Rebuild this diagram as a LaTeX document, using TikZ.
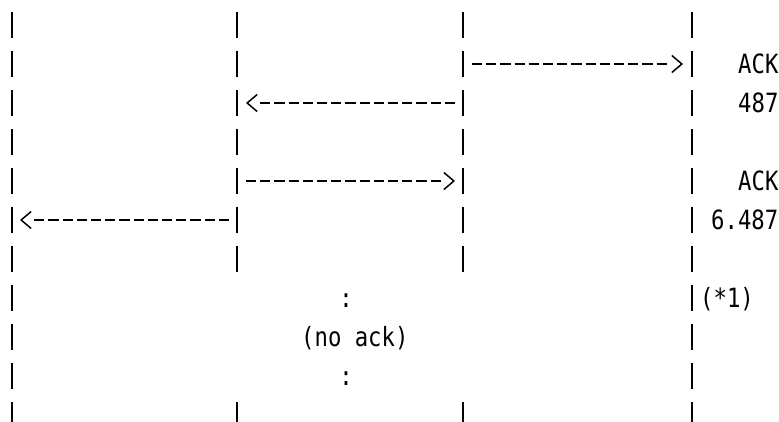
\documentclass[tikz,border=0pt]{standalone}
\usepackage{fontspec}
\usepackage{tikz}
\usetikzlibrary{arrows.meta}
\newfontfamily\asciifont{DejaVu Sans Mono}[FakeStretch=0.84]
\tikzset{
    segline/.style={line width=1.6pt, dash pattern=on 10.2pt off 4pt},
    segtip/.style={white, line width=0.1pt, -{Straight Barb[color=black,length=10pt,width=17pt,line width=1.5pt]}},
    lifeline/.style={line width=2.4pt, dash pattern=on 26pt off 13pt},
    asciitext/.style={font=\asciifont\fontsize{26.5}{30}\selectfont, inner sep=0pt, anchor=base west}
}

\begin{document}
\begin{tikzpicture}[x=1pt,y=-1pt]
    \useasboundingbox (0,0) rectangle (779,421);

    \coordinate (1top) at (12,12);
    \coordinate (1bot) at (12,428);
    \coordinate (2top) at (237,12);
    \coordinate (2mid) at (237,272);
    \coordinate (2low) at (237,402);
    \coordinate (2bot) at (237,428);
    \coordinate (3top) at (463,12);
    \coordinate (3mid) at (463,272);
    \coordinate (3low) at (463,402);
    \coordinate (3bot) at (463,428);
    \coordinate (4top) at (692,12);
    \coordinate (4bot) at (692,428);

    \draw [lifeline](1top) -- (1bot);
    \draw [lifeline](2top) -- (2mid);
    \draw [lifeline](2low) -- (2bot);
    \draw [lifeline](3top) -- (3mid);
    \draw [lifeline](3low) -- (3bot);
    \draw [lifeline](4top) -- (4bot);

    \coordinate (s1) at (472,64);
    \coordinate (b1) at (669,64);
    \coordinate (r1) at (683,64);
    \coordinate (s2) at (455,103);
    \coordinate (b2) at (260,103);
    \coordinate (r2) at (246,103);
    \coordinate (s3) at (246,181);
    \coordinate (b3) at (441,181);
    \coordinate (r3) at (455,181);
    \coordinate (s4) at (229,220);
    \coordinate (b4) at (34,220);
    \coordinate (r4) at (20,220);

    \draw [segline](s1) -- (b1);
    \draw [segtip](b1) -- (r1);
    \draw [segline](s2) -- (b2);
    \draw [segtip](b2) -- (r2);
    \draw [segline](s3) -- (b3);
    \draw [segtip](b3) -- (r3);
    \draw [segline](s4) -- (b4);
    \draw [segtip](b4) -- (r4);

    \node[asciitext] (ack1) at (738,73.5) {ACK};
    \node[asciitext] (seq1) at (738,112.5) {487};
    \node[asciitext] (ack2) at (738,190.5) {ACK};
    \node[asciitext] (seq2) at (711,229.5) {6.487};
    \node[asciitext] (note) at (700,307.5) {(*1)};

    \node[asciitext] (noack) at (301,346.5) {(no ack)};
    \node[asciitext, anchor=base] (dots1) at (346,307.5) {:};
    \node[asciitext, anchor=base] (dots2) at (346,385.5) {:};
\end{tikzpicture}
\end{document}
